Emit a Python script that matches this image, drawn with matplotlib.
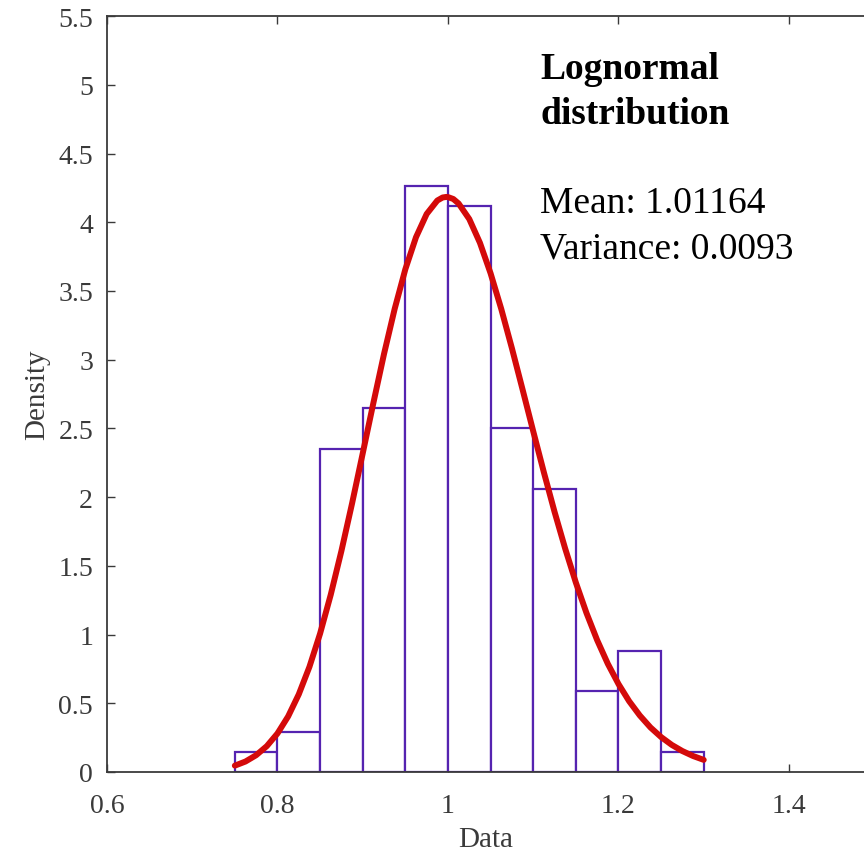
import matplotlib
matplotlib.use("Agg")
import matplotlib.pyplot as plt

plt.rcParams["font.family"] = ["Liberation Serif", "DejaVu Serif"]

# histogram (density), bin width 0.05
bin_edges = [0.75, 0.80, 0.85, 0.90, 0.95, 1.00, 1.05, 1.10, 1.15, 1.20, 1.25, 1.30]
density = [0.147, 0.294, 2.353, 2.647, 4.265, 4.118, 2.50, 2.059, 0.588, 0.882, 0.147]

# fitted lognormal curve
curve_x = [0.75, 0.7625, 0.775, 0.7875, 0.80, 0.8125, 0.825, 0.8375, 0.85, 0.8625,
           0.875, 0.8875, 0.90, 0.9125, 0.925, 0.9375, 0.95, 0.9625, 0.975, 0.9875,
           0.99375, 0.998, 1.00, 1.00625, 1.0125, 1.025, 1.0375, 1.05, 1.0625, 1.075,
           1.0875, 1.10, 1.1125, 1.125, 1.1375, 1.15, 1.1625, 1.175, 1.1875, 1.20,
           1.2125, 1.225, 1.2375, 1.25, 1.2625, 1.275, 1.2875, 1.30]
curve_y = [0.046, 0.076, 0.122, 0.188, 0.280, 0.404, 0.565, 0.765, 1.007, 1.290,
           1.608, 1.954, 2.318, 2.685, 3.042, 3.370, 3.658, 3.891, 4.060, 4.158,
           4.180, 4.184, 4.183, 4.169, 4.136, 4.023, 3.850, 3.628, 3.369, 3.083,
           2.783, 2.479, 2.180, 1.893, 1.625, 1.378, 1.156, 0.959, 0.787, 0.640,
           0.515, 0.411, 0.324, 0.254, 0.197, 0.152, 0.116, 0.088]

title_lines = ["Lognormal", "distribution"]
stats_lines = ["Mean: 1.01164", "Variance: 0.0093"]

AX_COLOR = "#3a3a3a"
BAR_EDGE = "#5523b0"
CURVE_RED = "#d40a0a"

fig = plt.figure(figsize=(8.64, 8.54), dpi=100)
ax = fig.add_axes([0.1238, 0.0949, 1.0 - 0.1238, 0.980 - 0.0949])

widths = [b - a for a, b in zip(bin_edges[:-1], bin_edges[1:])]
ax.bar(bin_edges[:-1], density, width=widths, align="edge",
       facecolor="white", edgecolor=BAR_EDGE, linewidth=1.6, zorder=2)
ax.plot(curve_x, curve_y, color=CURVE_RED, linewidth=4.3,
        solid_capstyle="round", solid_joinstyle="round", zorder=3)

ax.set_xlim(0.6, 1.488)
ax.set_ylim(0, 5.5)
ax.set_xticks([0.6, 0.8, 1.0, 1.2, 1.4])
ax.set_xticklabels(["0.6", "0.8", "1", "1.2", "1.4"])
ax.set_yticks([0, 0.5, 1, 1.5, 2, 2.5, 3, 3.5, 4, 4.5, 5, 5.5])
ax.set_yticklabels(["0", "0.5", "1", "1.5", "2", "2.5", "3", "3.5", "4", "4.5", "5", "5.5"])

ax.spines["right"].set_visible(False)
for s in ("left", "bottom", "top"):
    ax.spines[s].set_color(AX_COLOR)
    ax.spines[s].set_linewidth(1.3)
ax.tick_params(axis="both", direction="in", length=6, width=1.0,
               color=AX_COLOR, labelcolor=AX_COLOR, labelsize=20,
               top=True, right=False)
ax.tick_params(axis="x", pad=15)
ax.tick_params(axis="y", pad=10)

ax.set_xlabel("Data", fontsize=21, color=AX_COLOR, labelpad=6)
ax.set_ylabel("Density", fontsize=21, color=AX_COLOR, labelpad=6)

# annotation block
for i, line in enumerate(title_lines):
    ax.text(1.108, 5.05 - i * 0.328, line, fontsize=27, fontweight="bold",
            color="black", va="baseline", ha="left")
for i, line in enumerate(stats_lines):
    ax.text(1.108, 4.074 - i * 0.328, line, fontsize=27,
            color="black", va="baseline", ha="left")

fig.savefig("out.png", dpi=100)
